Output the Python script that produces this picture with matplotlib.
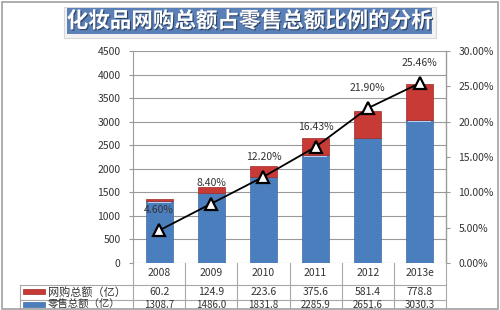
import matplotlib
matplotlib.use("Agg")
import matplotlib.pyplot as plt
import matplotlib.patheffects as pe
from matplotlib.patches import Rectangle
from matplotlib.lines import Line2D
from matplotlib.transforms import blended_transform_factory
from matplotlib.ticker import MultipleLocator, FuncFormatter

plt.rcParams['font.family'] = ['Noto Sans CJK SC', 'DejaVu Sans']

# data
years = ['2008', '2009', '2010', '2011', '2012', '2013e']
online = [60.2, 124.9, 223.6, 375.6, 581.4, 778.8]
retail = [1308.7, 1486.0, 1831.8, 2285.9, 2651.6, 3030.3]
ratio = [4.60, 8.40, 12.20, 16.43, 21.90, 25.46]
online_label = '网购总额（亿）'
retail_label = '零售总额（亿）'
title = '化妆品网购总额占零售总额比例的分析'

W, H = 500, 310
fig = plt.figure(figsize=(5, 3.1), dpi=100)
fig.patch.set_facecolor('white')

def fx(px):
    return px / W

def fy(py):
    return 1 - py / H

# outer frame
fig.add_artist(Rectangle((fx(2), fy(309)), fx(496), 307 / H, transform=fig.transFigure,
                         fill=False, edgecolor='#a0a0a0', lw=1.2))

# title box
fig.add_artist(Rectangle((fx(64), fy(38)), fx(372), 31 / H, transform=fig.transFigure,
                         facecolor='#f2f2f2', edgecolor='#d8d8d8', lw=0.8))
fig.add_artist(Rectangle((fx(67), fy(34)), fx(365), 26 / H, transform=fig.transFigure,
                         facecolor='#5b7fb7', edgecolor='none'))
fig.text(fx(249.5), fy(21), title, ha='center', va='center', fontsize=15.5,
         fontweight='bold', color='white',
         path_effects=[pe.withSimplePatchShadow(offset=(0.8, -0.8), shadow_rgbFace='#1f3350', alpha=0.8)])

L, R, T, B = 133, 446, 51, 263
ax = fig.add_axes([fx(L), fy(B), fx(R - L), (B - T) / H])
ax2 = ax.twinx()

x = list(range(len(years)))
ax.bar(x, retail, width=0.52, color='#4a7ebd', edgecolor='#3d6ca6', lw=0.5, zorder=2)
ax.bar(x, [12] * len(x), bottom=[r - 30 for r in retail], width=0.44, color='#b9d0ee', lw=0, zorder=3)
ax.bar(x, online, bottom=retail, width=0.52, color='#c83a35', edgecolor='#9e2a27', lw=0.5, zorder=2)

ax.set_xlim(-0.5, len(years) - 0.5)
ax.set_ylim(0, 4500)
ax.yaxis.set_major_locator(MultipleLocator(500))
ax.grid(axis='y', color='#9a9a9a', lw=0.8, zorder=0)
ax.set_axisbelow(True)
ax.set_xticks([])
for s in ['top', 'bottom']:
    ax.spines[s].set_visible(False)
ax.spines['left'].set_color('#9a9a9a')
ax.tick_params(axis='y', labelsize=7.5, colors='#9a9a9a', labelcolor='#333333', length=3, pad=6)

ax2.plot(x, ratio, color='black', lw=1.3, marker='^', markersize=8,
         markerfacecolor='white', markeredgecolor='black', markeredgewidth=1.6, zorder=5)
for xi, v in zip(x, ratio):
    ax2.annotate('%.2f%%' % v, (xi, v), xytext=(0, 11), textcoords='offset points',
                 ha='center', va='bottom', fontsize=7.5, color='#333333')
ax2.set_ylim(0, 30)
ax2.yaxis.set_major_locator(MultipleLocator(5))
ax2.yaxis.set_major_formatter(FuncFormatter(lambda v, p: '%.2f%%' % v))
for s in ['top', 'bottom', 'left']:
    ax2.spines[s].set_visible(False)
ax2.spines['right'].set_color('#9a9a9a')
ax2.tick_params(axis='y', labelsize=7.5, colors='#9a9a9a', labelcolor='#333333', length=3, pad=6)

# data table under the chart
tr = blended_transform_factory(ax.transData, fig.transFigure)
grid_c = '#a8a8a8'
for b in [i - 0.5 for i in range(len(years) + 1)]:
    fig.add_artist(Line2D([b, b], [fy(B), fy(312)], transform=tr, color=grid_c, lw=0.8))
fig.add_artist(Line2D([fx(20), fx(R)], [fy(285), fy(285)], transform=fig.transFigure, color=grid_c, lw=0.8))
fig.add_artist(Line2D([fx(20), fx(R)], [fy(300), fy(300)], transform=fig.transFigure, color=grid_c, lw=0.8))
fig.add_artist(Line2D([fx(20), fx(20)], [fy(285), fy(312)], transform=fig.transFigure, color=grid_c, lw=0.8))

for xi, yr, o, r in zip(x, years, online, retail):
    fig.text(xi, fy(273), yr, transform=tr, ha='center', va='center', fontsize=7.5, color='#333333')
    fig.text(xi, fy(292), '%.1f' % o, transform=tr, ha='center', va='center', fontsize=7.5, color='#333333')
    fig.text(xi, fy(304.5), '%.1f' % r, transform=tr, ha='center', va='center', fontsize=7, color='#333333')

fig.add_artist(Rectangle((fx(23), fy(294)), fx(22), 5 / H, transform=fig.transFigure,
                         facecolor='#c83a35', edgecolor='#9e2a27', lw=0.5))
fig.text(fx(48), fy(292), online_label, ha='left', va='center', fontsize=8, color='#333333')
fig.add_artist(Rectangle((fx(23), fy(307)), fx(22), 5 / H, transform=fig.transFigure,
                         facecolor='#4a7ebd', edgecolor='#3d6ca6', lw=0.5))
fig.text(fx(48), fy(304.5), retail_label, ha='left', va='center', fontsize=7.5, color='#333333')

fig.savefig('out.png', dpi=100)
